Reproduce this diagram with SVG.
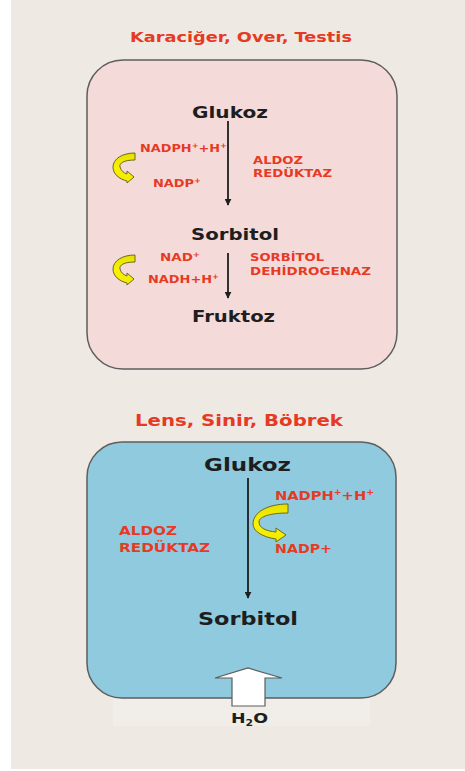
<svg xmlns="http://www.w3.org/2000/svg" width="465" height="771" viewBox="0 0 465 771">
<style>
.red{fill:#E63A24;font-family:"DejaVu Sans",Verdana,sans-serif;font-weight:bold}
.blk{fill:#1E1E1E;font-family:"DejaVu Sans",Verdana,sans-serif;font-weight:bold}
.box{stroke:#5E5E5E;stroke-width:1.5}
.ln{stroke:#1E1E1E;stroke-width:1.8;fill:none}
.cyc{fill:url(#yg);stroke:#6A6A1E;stroke-width:1}
</style>
<defs>
<marker id="ah" viewBox="0 0 10 10" refX="9" refY="5" markerWidth="7" markerHeight="7" markerUnits="userSpaceOnUse" orient="auto">
<path d="M0,0 L10,5 L0,10 Z" fill="#1E1E1E"/>
</marker>
<linearGradient id="yg" x1="0" y1="0" x2="0" y2="1">
<stop offset="0" stop-color="#E4E000"/>
<stop offset="0.5" stop-color="#FAF200"/>
<stop offset="1" stop-color="#F0EA00"/>
</linearGradient>
</defs>
<rect x="0" y="0" width="465" height="771" fill="#FFFFFF"/>
<rect x="11" y="0" width="454" height="769" fill="#EEEAE3"/>
<rect x="113" y="660" width="257" height="66" fill="#F1EEE9"/>

<g id="title-top"><text class="red" x="130" y="42" font-size="14.5" textLength="222" lengthAdjust="spacingAndGlyphs">Karaciğer, Over, Testis</text></g>
<g id="box-top"><rect class="box" x="87" y="60" width="310" height="309" rx="36" fill="#F5DADA"/></g>

<g id="title-bottom"><text class="red" x="135" y="426" font-size="15.5" textLength="208" lengthAdjust="spacingAndGlyphs">Lens, Sinir, Böbrek</text></g>
<g id="box-bottom"><rect class="box" x="87" y="442" width="309" height="256" rx="35" fill="#8FCADE"/></g>

<g id="connectors">
<line class="ln" x1="228" y1="121" x2="228" y2="205" marker-end="url(#ah)"/>
<line class="ln" x1="228" y1="253" x2="228" y2="298" marker-end="url(#ah)"/>
<line class="ln" x1="248" y1="478" x2="248" y2="598" marker-end="url(#ah)"/>
<path class="cyc" d="M135,153 L135,160 C124,160 119,163 120,167 C121,171 124,173 127,174 L127,171 L134,177 L127,183 L127,181 C119,179 113,174 113,167 C113,159 122,153 135,153 Z"/>
<path class="cyc" d="M135,255 L135,262 C124,262 119,265 120,269 C121,273 124,275 127,276 L127,273 L134,279 L127,285 L127,283 C119,281 113,276 113,269 C113,261 122,255 135,255 Z"/>
<path class="cyc" d="M288,504 L288,513 C272,513 259,516 259,522 C259,528 266,531 276,532 L276,528 L286,535 L276,542 L276,539 C262,537 253,531 253,524 C253,512 268,504 288,504 Z"/>
<path d="M232,706 L232,678 L215,678 L248,668 L282,678 L265,678 L265,706 Z" fill="#FFFFFF" stroke="#5E5E5E" stroke-width="1.2"/>
</g>

<g id="glukoz-top"><text class="blk" x="192" y="118" font-size="15.5" textLength="76" lengthAdjust="spacingAndGlyphs">Glukoz</text></g>
<g id="nadph-top"><text class="red" x="140" y="152" font-size="11" textLength="87" lengthAdjust="spacingAndGlyphs">NADPH<tspan dy="-4" font-size="7">+</tspan><tspan dy="4">+H</tspan><tspan dy="-4" font-size="7">+</tspan></text></g>
<g id="nadp-top"><text class="red" x="153" y="187" font-size="11" textLength="48" lengthAdjust="spacingAndGlyphs">NADP<tspan dy="-4" font-size="7">+</tspan></text></g>
<g id="enzyme1"><text class="red" x="253" y="164" font-size="11" textLength="50" lengthAdjust="spacingAndGlyphs">ALDOZ</text><text class="red" x="253" y="177" font-size="11" textLength="79" lengthAdjust="spacingAndGlyphs">REDÜKTAZ</text></g>
<g id="sorbitol-top"><text class="blk" x="191" y="240" font-size="16" textLength="88" lengthAdjust="spacingAndGlyphs">Sorbitol</text></g>
<g id="nad-top"><text class="red" x="160" y="261" font-size="11" textLength="40" lengthAdjust="spacingAndGlyphs">NAD<tspan dy="-4" font-size="7">+</tspan></text></g>
<g id="nadh-top"><text class="red" x="148" y="283" font-size="11" textLength="71" lengthAdjust="spacingAndGlyphs">NADH+H<tspan dy="-4" font-size="7">+</tspan></text></g>
<g id="enzyme2"><text class="red" x="250" y="261" font-size="11" textLength="74" lengthAdjust="spacingAndGlyphs">SORBİTOL</text><text class="red" x="250" y="275" font-size="11" textLength="121" lengthAdjust="spacingAndGlyphs">DEHİDROGENAZ</text></g>
<g id="fruktoz"><text class="blk" x="192" y="322" font-size="16" textLength="83" lengthAdjust="spacingAndGlyphs">Fruktoz</text></g>

<g id="glukoz-bottom"><text class="blk" x="204" y="471" font-size="17" textLength="87" lengthAdjust="spacingAndGlyphs">Glukoz</text></g>
<g id="nadph-bottom"><text class="red" x="275" y="500" font-size="12.5" textLength="99" lengthAdjust="spacingAndGlyphs">NADPH<tspan dy="-5" font-size="8">+</tspan><tspan dy="5">+H</tspan><tspan dy="-5" font-size="8">+</tspan></text></g>
<g id="nadp-bottom"><text class="red" x="275" y="553" font-size="12.5" textLength="57" lengthAdjust="spacingAndGlyphs">NADP+</text></g>
<g id="enzyme3"><text class="red" x="119" y="535" font-size="12" textLength="58" lengthAdjust="spacingAndGlyphs">ALDOZ</text><text class="red" x="119" y="552" font-size="12" textLength="91" lengthAdjust="spacingAndGlyphs">REDÜKTAZ</text></g>
<g id="sorbitol-bottom"><text class="blk" x="198" y="625" font-size="17" textLength="100" lengthAdjust="spacingAndGlyphs">Sorbitol</text></g>
<g id="h2o"><text class="blk" x="231" y="723" font-size="14.5" textLength="37" lengthAdjust="spacingAndGlyphs">H<tspan dy="3" font-size="9">2</tspan><tspan dy="-3">O</tspan></text></g>
</svg>
